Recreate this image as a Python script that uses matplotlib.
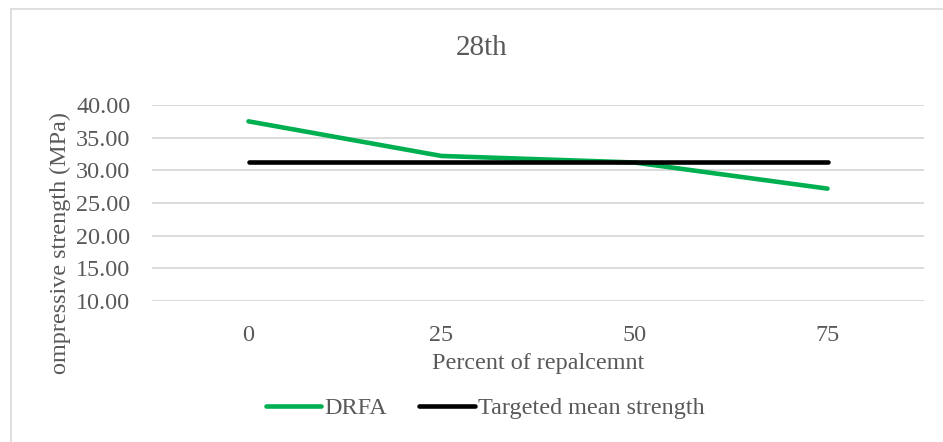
import matplotlib
matplotlib.use("Agg")
import matplotlib.pyplot as plt
from matplotlib.lines import Line2D

# Data
categories = ["0", "25", "50", "75"]
drfa = [37.5, 32.2, 31.2, 27.2]
target = [31.3, 31.3, 31.3, 31.3]
yticks = [10, 15, 20, 25, 30, 35, 40]

W, H = 943, 442
TXT = "#595959"
GREEN = "#00B050"
GRID = "#D9D9D9"
FS = 17.4

plt.rcParams["font.family"] = ["Liberation Serif", "DejaVu Serif"]

fig = plt.figure(figsize=(W / 100, H / 100), dpi=100)
fig.patch.set_facecolor("white")

# chart frame (top and left edges)
fig.add_artist(Line2D([11 / W, 11 / W], [0, 1 - 8.5 / H], transform=fig.transFigure,
                      color=GRID, lw=1.2))
fig.add_artist(Line2D([11 / W, 1], [1 - 8.5 / H, 1 - 8.5 / H], transform=fig.transFigure,
                      color=GRID, lw=1.2))

left, right = 152 / W, 924 / W
bottom, top = 1 - 301 / H, 1 - 105 / H
ax = fig.add_axes([left, bottom, right - left, top - bottom])

x = list(range(len(categories)))
ax.plot(x, drfa, color=GREEN, lw=3.3, solid_capstyle="round", solid_joinstyle="round",
        label="DRFA", zorder=3)
ax.plot(x, target, color="black", lw=3.3, solid_capstyle="round",
        label="Targeted mean strength", zorder=4)

ax.set_xlim(-0.5, len(categories) - 0.5)
ax.set_ylim(10, 40)
ax.set_yticks(yticks)
ax.set_yticklabels([f"{v:.2f}" for v in yticks])
ax.set_xticks(x)
ax.set_xticklabels(categories)

for s in ax.spines.values():
    s.set_visible(False)
ax.yaxis.grid(True, color=GRID, lw=1.3)
ax.set_axisbelow(True)
ax.tick_params(axis="both", length=0, labelsize=FS, colors=TXT)
ax.tick_params(axis="y", pad=15.5)
ax.tick_params(axis="x", pad=17)

fig.text(538 / W, 1 - 364 / H, "Percent of repalcemnt", ha="center", va="center",
         fontsize=FS, color=TXT)
fig.text(60 / W, 1 - 243 / H, "ompressive strength (MPa)", rotation=90,
         ha="center", va="center", fontsize=FS, color=TXT)

fig.text(482 / W, 1 - 48 / H, "28th", ha="center", va="center", fontsize=21, color=TXT)

leg = fig.legend(loc="center", bbox_to_anchor=(485 / W, 1 - 408 / H), ncol=2,
                 frameon=False, fontsize=FS, handlelength=2.3, handletextpad=0.12,
                 columnspacing=1.35, borderaxespad=0, borderpad=0)
for t in leg.get_texts():
    t.set_color(TXT)

fig.savefig("out.png", dpi=100, facecolor="white")
